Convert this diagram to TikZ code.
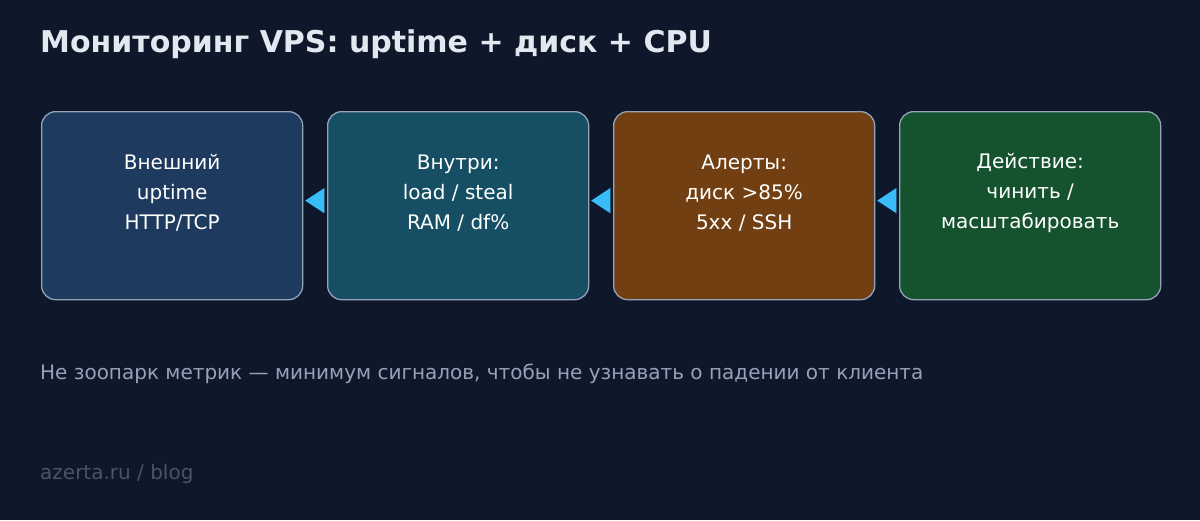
\documentclass[tikz,border=0pt]{standalone}
\usepackage{fontspec}
\setmainfont{DejaVu Sans}
\usetikzlibrary{arrows.meta}
\definecolor{bg}{HTML}{0F172A}
\definecolor{titlec}{HTML}{E2E8F0}
\definecolor{subc}{HTML}{94A3B8}
\definecolor{footc}{HTML}{475569}
\definecolor{edgec}{HTML}{94A3B8}
\definecolor{arrc}{HTML}{38BDF8}
\definecolor{c1}{HTML}{1E3A5F}
\definecolor{c2}{HTML}{164E63}
\definecolor{c3}{HTML}{713F12}
\definecolor{c4}{HTML}{14532D}
\tikzset{
  card/.style={draw=edgec, line width=1.3pt, rounded corners=14pt, minimum width=261pt, minimum height=188pt, anchor=north west, inner sep=0pt},
  cardtext/.style={text=white, align=center, inner sep=0pt, font=\fontsize{20}{30}\selectfont},
  link/.style={draw=arrc, line width=0.2pt, -{Triangle[length=19pt,width=25pt]}, shorten <=4pt, shorten >=2pt},
  plain/.style={anchor=base west, inner sep=0pt}
}
\begin{document}
\begin{tikzpicture}[x=1pt,y=-1pt]
\fill[bg] (0,0) rectangle (1200,520);
\useasboundingbox (0,0) rectangle (1200,520);
\node[plain, text=titlec, font=\fontsize{30}{36}\bfseries\selectfont] (title) at (40,52) {Мониторинг VPS: uptime + диск + CPU};
\node[card, fill=c1] (b1) at (41,111) {};
\node[card, fill=c2] (b2) at (327,111) {};
\node[card, fill=c3] (b3) at (613,111) {};
\node[card, fill=c4] (b4) at (899,111) {};
\node[cardtext] (t1) at ([yshift=13pt]b1.center) {Внешний\\uptime\\HTTP/TCP};
\node[cardtext] (t2) at ([yshift=13pt]b2.center) {Внутри:\\load / steal\\RAM / df\%};
\node[cardtext] (t3) at ([yshift=13pt]b3.center) {Алерты:\\диск >85\%\\5xx / SSH};
\node[cardtext] (t4) at ([yshift=13pt]b4.center) {Действие:\\чинить /\\масштабировать};
\draw[link] ([yshift=5pt]b2.west) -- ([yshift=5pt]b1.east);
\draw[link] ([yshift=5pt]b3.west) -- ([yshift=5pt]b2.east);
\draw[link] ([yshift=5pt]b4.west) -- ([yshift=5pt]b3.east);
\node[plain, text=subc, font=\fontsize{20}{24}\selectfont] (sub) at (40,379) {Не зоопарк метрик — минимум сигналов, чтобы не узнавать о падении от клиента};
\node[plain, text=footc, font=\fontsize{20}{24}\selectfont] (foot) at (40,479) {azerta.ru / blog};
\end{tikzpicture}
\end{document}
